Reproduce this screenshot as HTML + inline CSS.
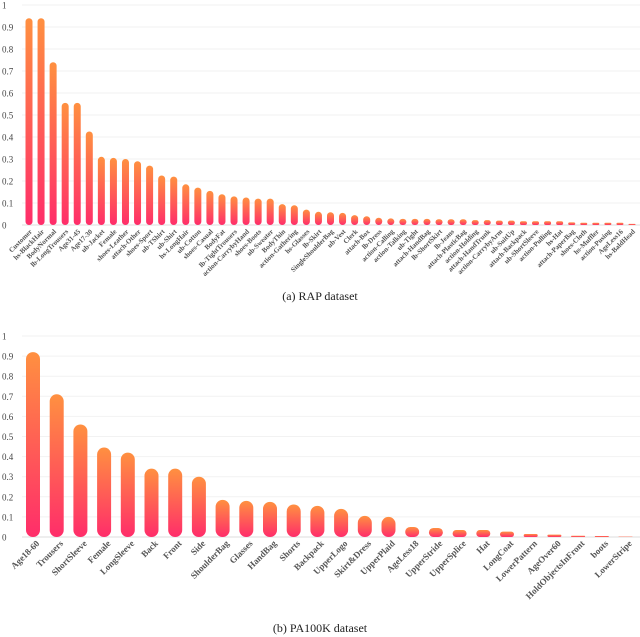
<!DOCTYPE html>
<html><head><meta charset="utf-8"><style>
body{margin:0;background:#fff;}
svg{display:block;font-family:"Liberation Serif",serif;}
</style></head><body>
<svg id="c" width="640" height="637" viewBox="0 0 640 637">
<defs>
<linearGradient id="g" x1="0" y1="1" x2="0" y2="0" gradientUnits="objectBoundingBox">
<stop offset="0" stop-color="#ff2d6a"/><stop offset="1" stop-color="#ff9040"/></linearGradient>
</defs>
</svg>
<script>
const rapCategories=["Customer","hs-BlackHair","BodyNormal","lb-LongTrousers","Age31-45","Age17-30","ub-Jacket","Female","shoes-Leather","attach-Other","shoes-Sport","ub-TShirt","ub-Shirt","hs-LongHair","ub-Cotton","shoes-Casual","BodyFat","lb-TightTrousers","action-CarrybyHand","shoes-Boots","ub-Sweater","BodyThin","action-Gathering","hs-Glasses","lb-Skirt","SingleShoulderBag","ub-Vest","Clerk","attach-Box","lb-Dress","action-Calling","action-Talking","ub-Tight","attach-HandBag","lb-ShortSkirt","lb-Jeans","attach-PlasticBag","action-Holding","attach-HandTrunk","action-CarrybyArm","ub-SuitUp","attach-Backpack","ub-ShortSleeve","action-Pulling","hs-Hat","attach-PaperBag","shoes-Cloth","hs-Muffler","action-Pusing","AgeLess16","hs-BaldHead"];
const rapValues=[0.94,0.94,0.74,0.555,0.555,0.425,0.31,0.305,0.3,0.29,0.27,0.225,0.22,0.185,0.17,0.155,0.14,0.13,0.125,0.12,0.12,0.095,0.09,0.07,0.06,0.058,0.055,0.045,0.04,0.033,0.03,0.028,0.028,0.028,0.026,0.026,0.026,0.022,0.022,0.02,0.02,0.017,0.017,0.017,0.017,0.012,0.01,0.01,0.01,0.01,0.005];
const paCategories=["Age18-60","Trousers","ShortSleeve","Female","LongSleeve","Back","Front","Side","ShoulderBag","Glasses","HandBag","Shorts","Backpack","UpperLogo","Skirt&Dress","UpperPlaid","AgeLess18","UpperStride","UpperSplice","Hat","LongCoat","LowerPattern","AgeOver60","HoldObjectsInFront","boots","LowerStripe"];
const paValues=[0.92,0.71,0.56,0.445,0.42,0.34,0.34,0.3,0.185,0.18,0.175,0.162,0.155,0.14,0.105,0.1,0.05,0.045,0.035,0.035,0.027,0.015,0.012,0.006,0.005,0.002];
const yTicks=["0","0.1","0.2","0.3","0.4","0.5","0.6","0.7","0.8","0.9","1"];
const NS="http://www.w3.org/2000/svg";
const svg=document.getElementById('c');
function mk(t,a,p){const e=document.createElementNS(NS,t);for(const k in a)e.setAttribute(k,a[k]);(p||svg).appendChild(e);return e;}
function chart(cfg){
  const g=mk('g',{});
  
  
  const y=v=>cfg.y0-(cfg.y0-cfg.y1)*v;
  const x=i=>cfg.x0+i*cfg.step;
  yTicks.forEach((t,i)=>{
    const v=i/10;
    const ln=mk('line',{x1:cfg.gx,x2:640,y1:y(v),y2:y(v),stroke:i==0?'#ddd':'#f2f2f2','stroke-width':1},g);
    
    
    const tx=mk('text',{x:2,y:y(v)+3.5,'font-size':cfg.tf,fill:'#444'},g);
    tx.textContent=t;
    
    
  });
  cfg.cats.forEach((c,i)=>{
    const v=cfg.vals[i];const top=y(v);const h=cfg.y0-top;
    const r=Math.min(cfg.bw/2,h/2);
    const b=mk('rect',{x:x(i)-cfg.bw/2,y:top,width:cfg.bw,height:h,rx:r,ry:r,fill:'url(#g)'},g);
    
    
    const lx=x(i)+cfg.bw/2, ly=cfg.y0+cfg.lo;
    const t=mk('text',{x:lx,y:ly,'font-size':cfg.lf,'font-weight':'bold',fill:'#555','text-anchor':'end',transform:`rotate(-45 ${lx} ${ly})`},g);
    t.textContent=c;
    
    
  });
  const cap=mk('text',{x:320,y:cfg.capY,'font-size':12,fill:'#222','text-anchor':'middle'},g);
  cap.textContent=cfg.caption;
  
  
}
chart({name:'rap-chart',cats:rapCategories,vals:rapValues,x0:29,step:12.06,bw:7,y0:225,y1:5,gx:22,tf:9,lf:7,lo:7,caption:'(a) RAP dataset',capY:300});
chart({name:'pa100k-chart',cats:paCategories,vals:paValues,x0:33,step:23.7,bw:14,y0:537,y1:336,gx:22,tf:9,lf:9,lo:7,caption:'(b) PA100K dataset',capY:632});
</script>
</body></html>
